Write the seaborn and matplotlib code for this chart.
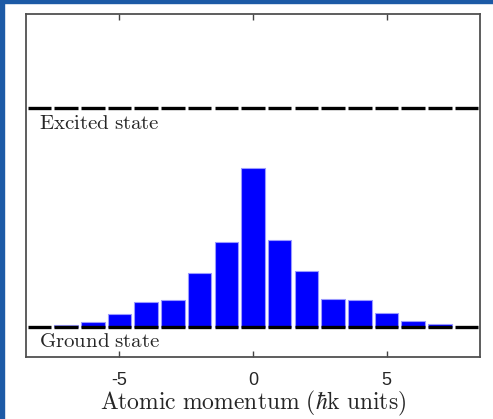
import numpy as np
import pandas as pd
import matplotlib
matplotlib.use("Agg")
import matplotlib.pyplot as plt
from matplotlib.patches import Rectangle
from matplotlib.transforms import blended_transform_factory
import seaborn as sns

# Data
momentum = [-7, -6, -5, -4, -3, -2, -1, 0, 1, 2, 3, 4, 5, 6, 7]
population = [0.010, 0.026, 0.059, 0.117, 0.126, 0.246, 0.390, 0.728,
              0.397, 0.255, 0.130, 0.126, 0.064, 0.027, 0.015]
level_positions = list(range(-8, 9))
ground_level = 0.0
excited_level = 1.0
xticks = [-5, 0, 5]
xtick_labels = ["-5", "0", "5"]

sns.set_style("white")
plt.rcParams["mathtext.fontset"] = "cm"
plt.rcParams["axes.unicode_minus"] = False
plt.rcParams["font.family"] = ["Liberation Sans", "DejaVu Sans"]

fig = plt.figure(figsize=(4.93, 4.19), dpi=100)
W, H = 493, 419
ax = fig.add_axes([26 / W, (H - 357) / H, (480 - 26) / W, (357 - 14) / H])

df = pd.DataFrame({"momentum": momentum, "population": population})
sns.barplot(data=df, x="momentum", y="population", native_scale=True,
            width=0.88, color="#0000ff", saturation=1,
            edgecolor="#9a9aff", linewidth=0.8, ax=ax, zorder=2)

pos = np.array(level_positions, dtype=float)
half = 0.44
ax.hlines(np.full(len(pos), ground_level), pos - half, pos + half,
          colors="black", linewidth=2.4, zorder=3)
ax.hlines(np.full(len(pos), excited_level), pos - half, pos + half,
          colors="black", linewidth=2.4, zorder=3)

ax.set_xlim(-8.5, 8.5)
ax.set_ylim(-0.135, 1.429)
ax.set_xticks(xticks)
ax.set_xticklabels(xtick_labels, fontsize=13)
ax.set_yticks([])
ax.tick_params(axis="x", direction="in", top=True, bottom=True, length=4,
               width=1, color="#444444", pad=11)
for s in ax.spines.values():
    s.set_color("#505050")
    s.set_linewidth(1.3)

ax.set_ylabel("")
ax.set_xlabel(r"$\mathrm{Atomic\ momentum\ (}\hbar\mathrm{k\ units)}$",
              fontsize=17, labelpad=0)

tr = blended_transform_factory(ax.transAxes, ax.transData)
ax.text(0.029, excited_level - 0.029, r"$\mathrm{Excited\ state}$",
        transform=tr, fontsize=15, va="top", ha="left")
ax.text(0.029, ground_level - 0.02, r"$\mathrm{Ground\ state}$",
        transform=tr, fontsize=15, va="top", ha="left")

# blue frame on left and top
blue = "#1c5aa6"
fig.patches.append(Rectangle((0, 0), 4 / W, 1, transform=fig.transFigure,
                             color=blue, zorder=10))
fig.patches.append(Rectangle((0, 1 - 3.5 / H), 1, 3.5 / H, transform=fig.transFigure,
                             color=blue, zorder=10))

fig.savefig("out.png", dpi=100)
